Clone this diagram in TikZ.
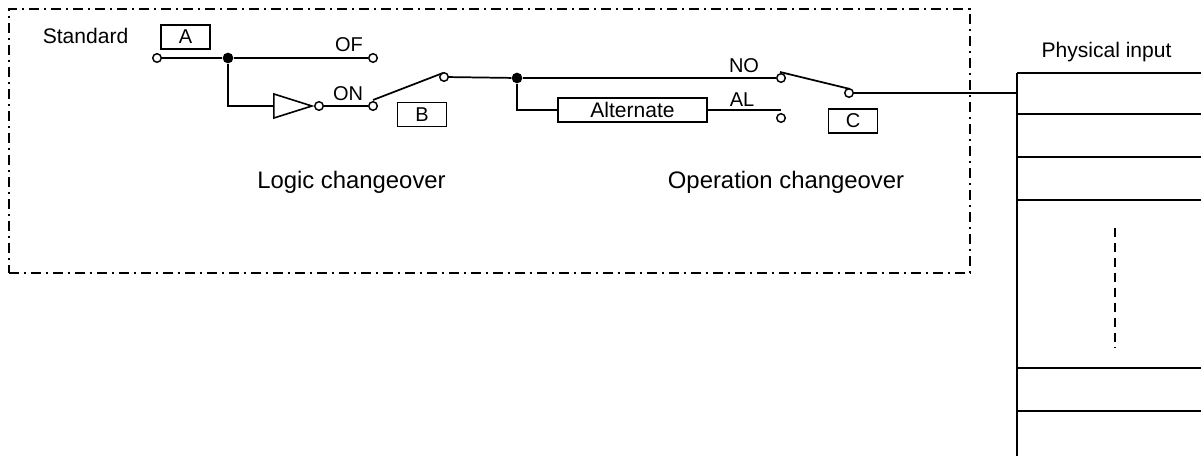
\documentclass[tikz,border=0pt]{standalone}
\usepackage{fontspec}
\setmainfont{Liberation Sans}
\usetikzlibrary{shapes.geometric}

\begin{document}
\begin{tikzpicture}[
  x=0.75pt, y=-0.75pt,
  every node/.style={font=\fontsize{15}{18}\selectfont},
  wire/.style={line width=1.3pt},
  midnode/.style={font=\fontsize{15.8}{19}\selectfont},
  headnode/.style={font=\fontsize{17.9}{21}\selectfont},
  term/.style={circle, draw, line width=1.1pt, fill=white, inner sep=0pt, minimum size=6.4pt},
  junc/.style={circle, fill=black, inner sep=0pt, minimum size=8pt},
  tagnode/.style={rectangle, draw, line width=1.2pt, inner sep=0pt, minimum width=36.5pt, minimum height=18pt},
  altnode/.style={rectangle, draw, line width=1.2pt, inner sep=0pt, minimum width=111.5pt, minimum height=18pt, midnode},
  invnode/.style={isosceles triangle, draw, line width=1.2pt, inner sep=0pt, isosceles triangle stretches, minimum width=18pt, minimum height=28.5pt, anchor=apex},
  frameline/.style={line width=1.4pt, dash pattern=on 7.5pt off 3.6pt on 1.5pt off 3.9pt}
]
\useasboundingbox (0,0) rectangle (1201,456);

% Frame
\node[rectangle, draw, frameline, inner sep=0pt, minimum width=720.75pt, minimum height=198pt, anchor=north west] (frame) at (8,8) {};

% Labels
\node[midnode] (standard) at (85.5,36) {Standard};
\node[headnode] (logic) at (351.5,182.5) {Logic changeover};
\node[headnode] (oper) at (786,182.5) {Operation changeover};
\node[midnode] (physical) at (1106.5,52) {Physical input};
\node (of) at (349,45) {OF};
\node (on) at (348,94) {ON};
\node (no) at (744,66) {NO};
\node (al) at (742,100) {AL};

% Boxes
\node[tagnode] (taga) at (185.5,37) {A};
\node[tagnode] (tagb) at (422,114.5) {B};
\node[tagnode] (tagc) at (853,121) {C};
\node[altnode] (alternate) at (632.5,110) {Alternate};
\node[invnode] (inv) at (314,106) {};

% Terminals
\node[term] (in) at (157,58) {};
\node[term] (tof) at (373,58) {};
\node[term] (bubble) at (319,106) {};
\node[term] (ton) at (373,106) {};
\node[term] (tb) at (444,77) {};
\node[term] (tno) at (781,78) {};
\node[term] (tal) at (781,118) {};
\node[term] (tc) at (849,93) {};
\node[junc] (ja) at (228,58) {};
\node[junc] (jb) at (517,78) {};

\coordinate (armb1) at (373,100);
\coordinate (armb2) at (443,73);
\coordinate (armc1) at (780,72);
\coordinate (armc2) at (850,89);
\coordinate (alend) at (781,110);
\coordinate (input) at (1017,93);

% Wires
\draw[wire] (in) -- (ja);
\draw[wire] (ja) -- (tof);
\draw[wire] (ja) |- (inv.west);
\draw[wire] (bubble) -- (ton);
\draw[wire] (armb1) -- (armb2);
\draw[wire] (tb) -- (jb);
\draw[wire] (jb) -- (tno);
\draw[wire] (jb) |- (alternate);
\draw[wire] (alternate) -- (alend);
\draw[wire] (armc1) -- (armc2);
\draw[wire] (tc) -- (input);

% Physical input table
\draw[wire] (1017,456) -- (1017,73);
\foreach \y in {73,114,157,200,368,411} {
  \coordinate (rowl\y) at (1017,\y);
  \coordinate (rowr\y) at (1201,\y);
  \draw[wire] (rowl\y) -- (rowr\y);
}
\coordinate (dota) at (1115,228);
\coordinate (dotb) at (1115,348);
\draw[line width=1.2pt, dash pattern=on 7pt off 4.2pt] (dota) -- (dotb);
\end{tikzpicture}
\end{document}
